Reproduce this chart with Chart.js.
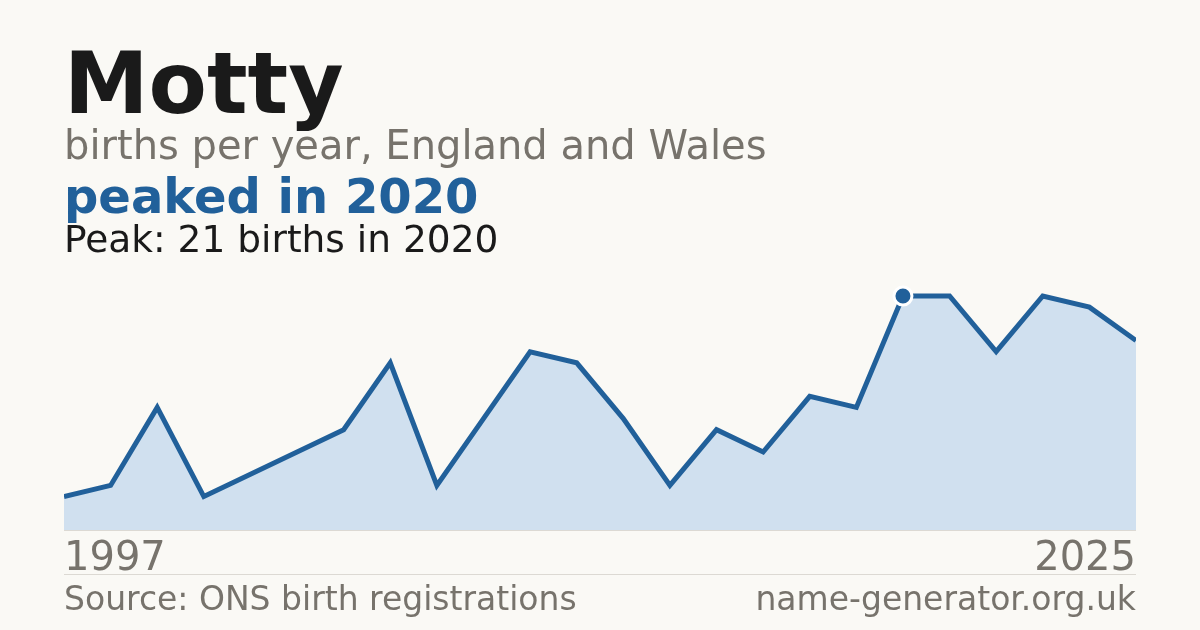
<!DOCTYPE html>
<html>
<head>
<meta charset="utf-8">
<script src="https://cdn.jsdelivr.net/npm/chart.js@4.4.1/dist/chart.umd.min.js"></script>
<style>
  html, body { margin: 0; padding: 0; }
  body { width: 1200px; height: 630px; background: #faf9f5; position: relative; overflow: hidden;
         font-family: "DejaVu Sans", sans-serif; }
  #wrap { position: absolute; left: 0; top: 0; width: 1200px; height: 630px; }
  .txt { position: absolute; left: 64px; white-space: nowrap; line-height: 1; }
  #titulo { top: 41px; font-size: 85px; font-weight: bold; color: #1a1a1a; }
  #subtitulo { top: 125px; font-size: 40px; color: #77736c; }
  #resumen { top: 172px; font-size: 48px; font-weight: bold; color: #21609a; }
  #pico { top: 221px; font-size: 37.5px; color: #1a1a1a; }
  .anio { top: 536px; font-size: 40px; color: #77736c; }
  #anio_fin { left: auto; right: 64px; }
  .pie { top: 582px; font-size: 33px; color: #77736c; }
  #sitio { left: auto; right: 64px; }
  .regla { position: absolute; left: 64px; width: 1072px; height: 1px; background: #dcd9d3; }
</style>
</head>
<body>
<div class="regla" style="top:530px"></div>
<div class="regla" style="top:574px"></div>
<div id="wrap"><canvas id="grafica_nombre" width="1200" height="630"></canvas></div>
<div class="txt" id="titulo"></div>
<div class="txt" id="subtitulo"></div>
<div class="txt" id="resumen"></div>
<div class="txt" id="pico"></div>
<div class="txt anio" id="anio_ini"></div>
<div class="txt anio" id="anio_fin"></div>
<div class="txt pie" id="fuente">Source: ONS birth registrations</div>
<div class="txt pie" id="sitio">name-generator.org.uk</div>
<script>
const nombre = "Motty";
const anios = [1997, 1998, 1999, 2000, 2002, 2004, 2005, 2006, 2008, 2009, 2010, 2011,
               2012, 2014, 2015, 2016, 2017, 2019, 2020, 2021, 2022, 2023, 2024, 2025];
const nacimientos = [3, 4, 11, 3, 5, 7, 9, 15, 4, 10, 16, 15,
                     10, 4, 9, 7, 12, 11, 21, 21, 16, 21, 20, 17];

let chartNombre = null;

function indicePico(valores) {
  let idx = 0;
  for (let i = 1; i < valores.length; i++) {
    if (valores[i] > valores[idx]) idx = i;
  }
  return idx;
}

function llenarTextos(pico) {
  document.getElementById("titulo").innerText = nombre;
  document.getElementById("subtitulo").innerText = "births per year, England and Wales";
  document.getElementById("resumen").innerText = "peaked in " + anios[pico];
  document.getElementById("pico").innerText = "Peak: " + nacimientos[pico] + " births in " + anios[pico];
  document.getElementById("anio_ini").innerText = anios[0];
  document.getElementById("anio_fin").innerText = anios[anios.length - 1];
}

function inicializarChart() {
  const ctx = document.getElementById("grafica_nombre").getContext("2d");
  const pico = indicePico(nacimientos);
  llenarTextos(pico);

  if (chartNombre) {
    chartNombre.destroy();
    chartNombre = null;
  }

  chartNombre = new Chart(ctx, {
    type: 'line',
    data: {
      labels: anios.map(String),
      datasets: [{
        data: nacimientos,
        borderColor: "#21609a",
        borderWidth: 5,
        backgroundColor: "#d0e0ef",
        fill: 'origin',
        tension: 0,
        clip: { left: 0, top: false, right: 0, bottom: 0 },
        pointRadius: (c) => c.dataIndex === pico ? 9 : 0,
        pointBackgroundColor: "#21609a",
        pointBorderColor: "#ffffff",
        pointBorderWidth: 3,
        pointHoverRadius: 0
      }]
    },
    options: {
      responsive: false,
      animation: false,
      layout: { padding: { left: 64, right: 64, top: 296, bottom: 100 } },
      scales: {
        x: { display: false, offset: false },
        y: { display: false, min: 0, max: 21 }
      },
      plugins: {
        legend: { display: false },
        tooltip: { enabled: false }
      }
    }
  });
}

inicializarChart();
</script>
</body>
</html>
